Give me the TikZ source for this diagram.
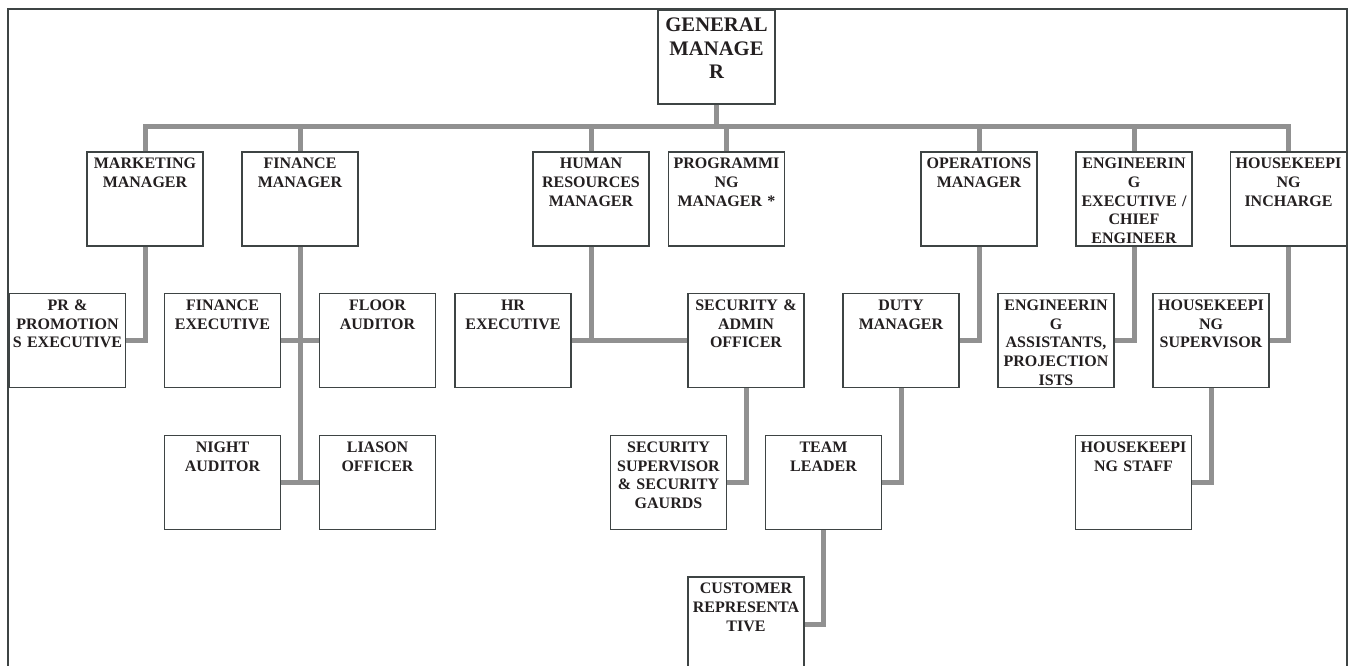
\documentclass[tikz,border=0pt]{standalone}
\usepackage{fontspec}
\setmainfont{Liberation Serif}
\definecolor{linkgray}{RGB}{145,145,145}
\definecolor{boxline}{RGB}{62,68,68}
\definecolor{ink}{RGB}{35,31,32}

\begin{document}
\begin{tikzpicture}[x=0.75pt, y=-0.75pt,
	post/.style={draw=boxline, line width=1.1pt, fill=white, text=ink, inner sep=0pt,
		minimum width=87pt, minimum height=70.5pt, text width=87pt, align=center,
		font=\fontsize{12}{14}\selectfont\bfseries, text height=12.7pt, text depth=57.8pt},
	headpost/.style={post, minimum width=87.75pt, text width=87.75pt,
		font=\fontsize{15.5}{17.6}\selectfont\bfseries, text height=16.5pt, text depth=54pt},
	link/.style={draw=linkgray, line width=3.75pt}]
	\useasboundingbox (0,0) rectangle (1350,666);
	\draw[boxline, line width=1.1pt] (8,690) -- (8,9) -- (1347,9) -- (1347,690);
	
	\node[headpost] (gm) at (716.5,57) {GENERAL\\MANAGE\\R};
	\coordinate (bus) at (716.5,127);
	
	\node[post] (mkt) at (145,199) {MARKETING\\MANAGER};
	\node[post] (fin) at (300,199) {FINANCE\\MANAGER};
	\node[post] (hrm) at (591,199) {HUMAN\\RESOURCES\\MANAGER};
	\node[post] (prog) at (726.5,199) {PROGRAMMI\\NG\\MANAGER *};
	\node[post] (ops) at (979,199) {OPERATIONS\\MANAGER};
	\node[post] (eng) at (1134,199) {ENGINEERIN\\G\\EXECUTIVE /\\CHIEF\\ENGINEER};
	\node[post] (hk) at (1288.5,199) {HOUSEKEEPI\\NG\\INCHARGE};
	
	\node[post] (pr) at (67.5,340.5) {PR \&\\PROMOTION\\S EXECUTIVE};
	\node[post] (finex) at (222.5,340.5) {FINANCE\\EXECUTIVE};
	\node[post] (floor) at (377.5,340.5) {FLOOR\\AUDITOR};
	\node[post] (hrex) at (513,340.5) {HR\\EXECUTIVE};
	\node[post] (secad) at (746,340.5) {SECURITY \&\\ADMIN\\OFFICER};
	\node[post] (duty) at (901,340.5) {DUTY\\MANAGER};
	\node[post] (engas) at (1056,340.5) {ENGINEERIN\\G\\ASSISTANTS,\\PROJECTION\\ISTS};
	\node[post] (hksup) at (1211,340.5) {HOUSEKEEPI\\NG\\SUPERVISOR};
	
	\node[post] (night) at (222.5,482.5) {NIGHT\\AUDITOR};
	\node[post] (liason) at (377.5,482.5) {LIASON\\OFFICER};
	\node[post] (secsup) at (668.5,482.5) {SECURITY\\SUPERVISOR\\\& SECURITY\\GAURDS};
	\node[post] (team) at (823.5,482.5) {TEAM\\LEADER};
	\node[post] (hkstaff) at (1133.5,482.5) {HOUSEKEEPI\\NG STAFF};
	
	\node[post] (cust) at (746,624) {CUSTOMER\\REPRESENTA\\TIVE};
	
	\draw[link] (gm.south) -- (gm.south |- bus);
	\draw[link] (mkt.north) |- (hk.north |- bus) -- (hk.north);
	\foreach \m in {fin,hrm,prog,ops,eng}
		\draw[link] (\m.north) -- (\m.north |- bus);
	
	\draw[link] (mkt.south) |- (pr.east);
	\draw[link] (fin.south) -- ([yshift=-1.9pt]fin.south |- night.east);
	\draw[link] (finex.east) -- (floor.west);
	\draw[link] (night.east) -- (liason.west);
	\draw[link] (hrm.south) |- (hrex.east);
	\draw[link] (hrex.east) -- (secad.west);
	\draw[link] (ops.south) |- (duty.east);
	\draw[link] (eng.south) |- (engas.east);
	\draw[link] (hk.south) |- (hksup.east);
	
	\draw[link] (secad.south) |- (secsup.east);
	\draw[link] (duty.south) |- (team.east);
	\draw[link] (hksup.south) |- (hkstaff.east);
	\draw[link] (team.south) |- (cust.east);
\end{tikzpicture}
\end{document}
